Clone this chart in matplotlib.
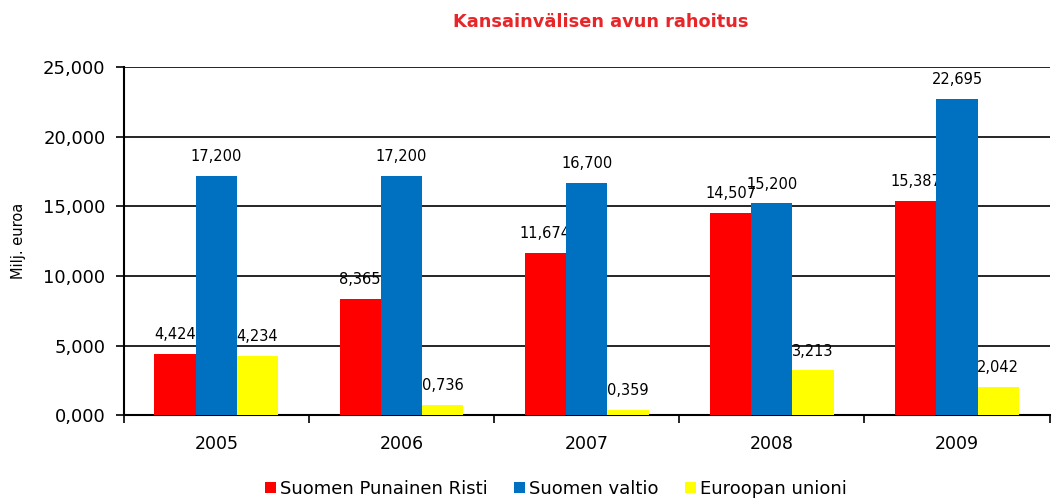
import matplotlib.pyplot as plt
import numpy as np

years = ['2005', '2006', '2007', '2008', '2009']
punainen_risti = [4.424, 8.365, 11.674, 14.507, 15.387]
valtio = [17.200, 17.200, 16.700, 15.200, 22.695]
eu = [4.234, 0.736, 0.359, 3.213, 2.042]

series = [('Suomen Punainen Risti', punainen_risti, '#ff0000'),
          ('Suomen valtio', valtio, '#0070c0'),
          ('Euroopan unioni', eu, '#ffff00')]

def fi(v):
    return ('%.3f' % v).replace('.', ',')

fig = plt.figure(figsize=(10.57, 4.99), dpi=100)
ax = fig.add_axes([0.117, 0.168, 0.876, 0.698])

x = np.arange(len(years))
w = 0.223
for i, (name, vals, col) in enumerate(series):
    pos = x + (i - 1) * w
    ax.bar(pos, vals, w, color=col, label=name, zorder=3)
    for px, v in zip(pos, vals):
        ax.annotate(fi(v), (px, v), xytext=(0, 8.5), textcoords='offset points',
                    ha='center', va='bottom', fontsize=10.5)

ax.set_xlim(-0.5, len(years) - 0.5)
ax.set_ylim(0, 25)
ax.set_yticks(np.arange(0, 26, 5))
ax.set_yticklabels([fi(t) for t in np.arange(0, 26, 5)], fontsize=13)
ax.yaxis.grid(True, color='black', linewidth=1.2, zorder=0)
ax.set_xticks(x)
ax.set_xticklabels(years, fontsize=12.5)
ax.tick_params(axis='x', length=0, pad=14)
ax.set_xticks(np.arange(-0.5, len(years)), minor=True)
ax.tick_params(axis='x', which='minor', length=6, width=1.2)
ax.tick_params(axis='y', length=6, width=1.2, pad=7)
for s in ['top', 'right']:
    ax.spines[s].set_visible(False)
ax.spines['left'].set_linewidth(1.5)
ax.spines['bottom'].set_linewidth(1.5)
ax.set_ylabel('Milj. euroa', fontsize=10.5)
ax.yaxis.set_label_coords(-0.105, 0.5)

fig.text(0.568, 0.955, 'Kansainvälisen avun rahoitus', color='#e8262a',
         fontsize=12.8, fontweight='bold', ha='center', va='center')

fig.legend(loc='lower center', bbox_to_anchor=(0.526, -0.03), ncol=3, frameon=False,
           fontsize=13, handlelength=0.6, handleheight=0.6, handletextpad=0.2,
           columnspacing=1.5)

fig.savefig('out.png', dpi=100)
